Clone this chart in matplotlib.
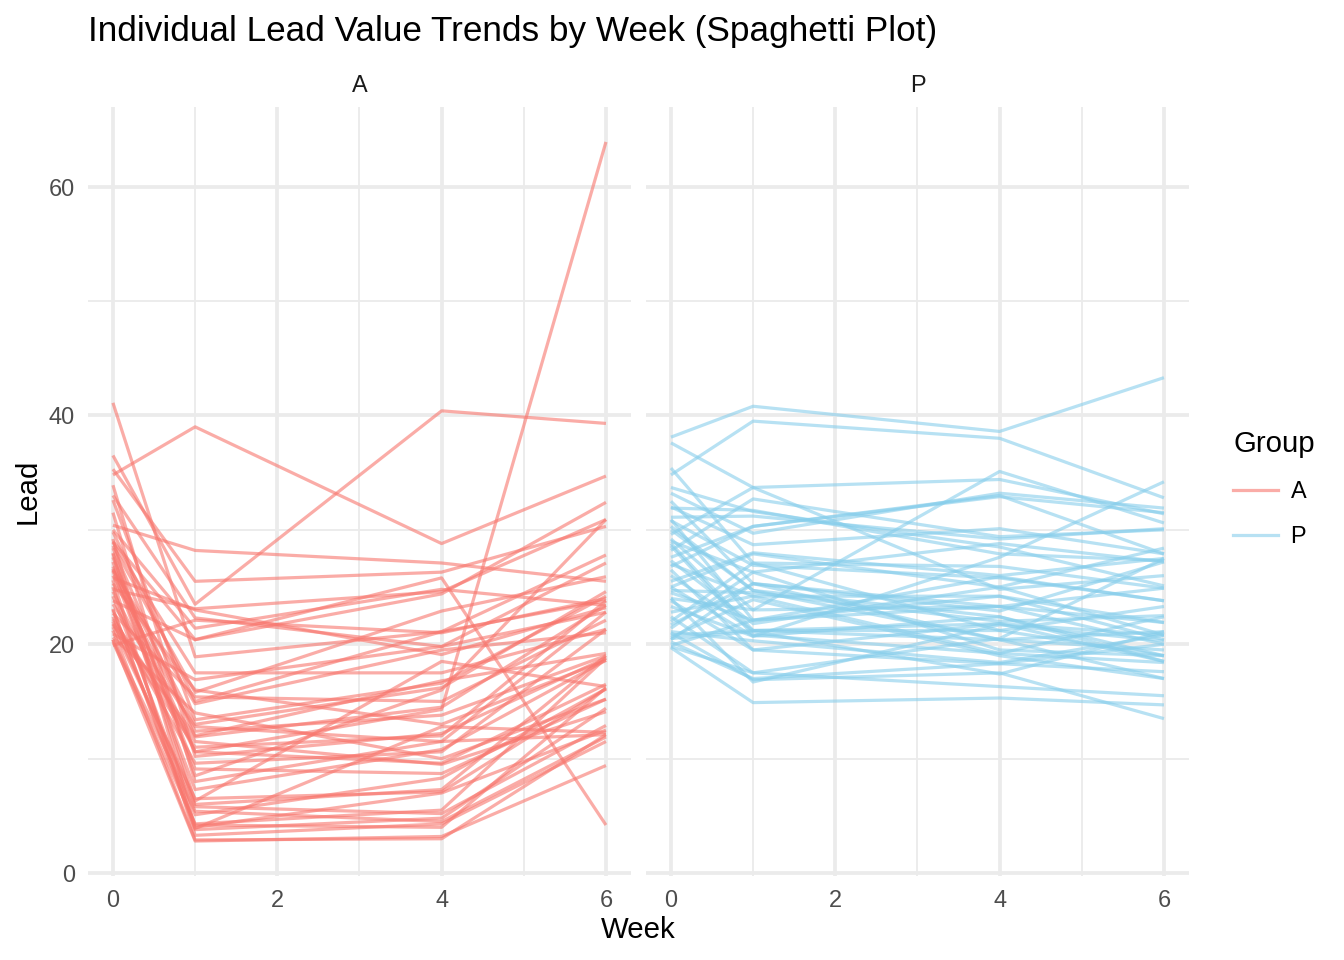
import matplotlib
matplotlib.use("Agg")
import matplotlib.pyplot as plt
from matplotlib.lines import Line2D
import numpy as np

plt.rcParams['font.family'] = ['Liberation Sans', 'DejaVu Sans']

weeks = [0, 1, 4, 6]
groups = ['A', 'P']
group_colors = {'A': '#F8766D', 'P': '#87CEEB'}
title_text = "Individual Lead Value Trends by Week (Spaghetti Plot)"

# ---- Group A (50 children): lead at week 0, 1, 4, 6 ----
lead_A_w0 = [26.5, 25.8, 20.4, 20.4, 24.8, 27.9, 35.3, 28.6, 21.5, 21.8,
             23.0, 22.2, 25.0, 34.8, 36.5, 41.1, 30.4, 26.6, 29.0, 33.0,
             33.9, 32.6, 31.5, 29.8, 29.2, 28.9, 28.4, 27.6, 27.2, 26.8,
             26.4, 26.0, 25.6, 25.3, 24.6, 24.2, 23.8, 23.5, 23.1, 22.7,
             22.4, 22.0, 21.7, 21.2, 20.9, 20.6, 20.2, 19.9, 30.0, 28.0]
lead_A_w1 = [14.8, 23.0, 2.8, 5.4, 23.1, 6.3, 25.5, 15.8, 6.5, 12.0,
             4.2, 11.5, 3.9, 39.0, 23.5, 18.9, 28.2, 10.6, 20.4, 22.3,
             10.2, 13.4, 8.0, 15.0, 4.0, 17.5, 11.9, 9.1, 5.8, 13.0,
             7.3, 12.4, 3.3, 16.0, 10.6, 5.1, 20.4, 12.8, 3.8, 15.4,
             9.6, 6.0, 11.0, 2.9, 16.9, 14.0, 4.3, 22.1, 21.4, 8.5]
lead_A_w4 = [19.5, 19.1, 3.2, 4.5, 24.6, 18.5, 26.3, 22.9, 7.1, 16.8,
             4.0, 9.5, 12.8, 28.8, 40.4, 21.1, 27.1, 14.3, 25.8, 19.8,
             12.2, 16.6, 11.5, 21.1, 7.0, 17.5, 14.5, 8.7, 5.2, 16.2,
             10.8, 13.8, 4.3, 13.0, 9.6, 8.3, 24.4, 11.5, 4.8, 15.0,
             10.6, 7.3, 12.0, 3.0, 19.8, 10.0, 5.5, 21.0, 24.8, 16.0]
lead_A_w6 = [21.0, 23.2, 9.4, 11.9, 30.9, 16.3, 30.3, 25.9, 16.1, 19.2,
             16.2, 14.1, 12.3, 34.7, 39.3, 23.8, 25.5, 63.9, 4.2, 22.8,
             18.8, 24.2, 22.8, 27.8, 12.5, 21.3, 23.4, 15.2, 12.9, 24.6,
             18.6, 19.0, 11.5, 18.6, 16.5, 16.1, 32.4, 12.1, 14.4, 22.1,
             21.3, 19.0, 23.8, 12.1, 27.1, 15.2, 18.8, 24.0, 23.4, 30.9]

# ---- Group P (50 children) ----
lead_P_w0 = [30.8, 24.7, 28.6, 33.7, 19.7, 31.1, 19.8, 21.4, 21.1, 20.6,
             24.0, 37.6, 31.9, 29.6, 20.5, 38.1, 34.8, 35.4, 33.2, 32.5,
             32.0, 30.9, 30.0, 28.8, 27.6, 26.5, 25.0, 24.0, 23.3, 22.4,
             21.0, 20.4, 19.9, 29.0, 27.0, 26.0, 25.5, 25.0, 24.5, 23.8,
             28.2, 22.8, 22.0, 20.8, 20.2, 26.8, 29.2, 27.3, 21.7, 30.3]
lead_P_w1 = [26.9, 24.5, 20.8, 31.6, 14.9, 31.2, 17.5, 26.3, 20.3, 23.9,
             16.7, 33.7, 31.7, 33.7, 21.1, 40.8, 39.5, 27.1, 29.7, 25.3,
             28.7, 22.1, 24.7, 21.2, 30.3, 19.5, 27.9, 23.0, 20.7, 17.5,
             16.9, 25.3, 22.1, 26.3, 24.2, 21.2, 28.0, 20.7, 22.1, 19.5,
             32.7, 24.2, 27.1, 21.2, 17.0, 30.3, 23.0, 21.8, 25.3, 24.7]
lead_P_w4 = [25.8, 22.0, 19.2, 28.5, 15.3, 29.2, 20.5, 19.5, 18.4, 19.0,
             21.7, 34.4, 27.9, 24.8, 17.4, 38.6, 38.0, 26.8, 33.2, 23.3,
             30.1, 24.2, 22.4, 21.8, 32.9, 18.3, 25.0, 35.1, 27.6, 16.3,
             17.5, 20.4, 23.3, 28.8, 19.2, 21.2, 26.0, 22.4, 25.9, 21.8,
             29.4, 24.2, 21.2, 20.4, 18.3, 33.0, 23.3, 25.0, 22.9, 20.4]
lead_P_w6 = [23.8, 22.5, 18.4, 25.1, 14.7, 30.1, 27.5, 19.0, 20.8, 17.0,
             20.3, 31.4, 27.3, 26.0, 21.1, 43.3, 32.8, 24.9, 31.9, 21.9,
             27.9, 20.4, 19.0, 18.5, 31.5, 17.6, 28.4, 30.6, 34.2, 15.5,
             13.5, 21.1, 20.0, 27.2, 22.4, 23.3, 27.5, 18.5, 23.8, 20.8,
             30.0, 21.9, 19.0, 17.0, 20.0, 27.9, 24.9, 20.8, 27.2, 19.5]

data = {
    'A': [lead_A_w0, lead_A_w1, lead_A_w4, lead_A_w6],
    'P': [lead_P_w0, lead_P_w1, lead_P_w4, lead_P_w6],
}

W, H = 1344, 960
fig = plt.figure(figsize=(W / 192, H / 192), dpi=192)

allvals = np.concatenate([np.array(v) for g in groups for v in data[g]])
ymin, ymax = allvals.min(), allvals.max()
yr = ymax - ymin
ylim = (ymin - 0.05 * yr, ymax + 0.05 * yr)
xr = max(weeks) - min(weeks)
xlim = (min(weeks) - 0.05 * xr, max(weeks) + 0.05 * xr)

panel_top, panel_bottom = 107, 876
panel_lefts = [88.3, 646.3]
panel_w = 542.3

grid_w = 1.42
line_w = 1.2
axes = []
for k, g in enumerate(groups):
    ax = fig.add_axes([panel_lefts[k] / W, 1 - panel_bottom / H,
                       panel_w / W, (panel_bottom - panel_top) / H])
    axes.append(ax)
    ax.set_xlim(xlim)
    ax.set_ylim(ylim)
    for s in ax.spines.values():
        s.set_visible(False)
    ax.set_xticks([0, 2, 4, 6])
    ax.set_xticks([1, 3, 5], minor=True)
    ax.set_yticks([0, 20, 40, 60])
    ax.set_yticks([10, 30, 50], minor=True)
    ax.grid(which='major', color='#EBEBEB', linewidth=grid_w)
    ax.grid(which='minor', color='#EBEBEB', linewidth=grid_w / 2)
    ax.set_axisbelow(True)
    ax.tick_params(which='both', length=0, pad=4.95, labelsize=8.8,
                   labelcolor='#4D4D4D')
    if k > 0:
        ax.tick_params(axis='y', labelleft=False)
    cols = data[g]
    n = len(cols[0])
    for i in range(n):
        ax.plot(weeks, [cols[0][i], cols[1][i], cols[2][i], cols[3][i]],
                color=group_colors[g], alpha=0.6, linewidth=line_w,
                solid_joinstyle='round', solid_capstyle='butt')
    ax.text(0.5, 1 + 22 / (panel_bottom - panel_top), g, transform=ax.transAxes,
            ha='center', va='center', fontsize=8.8, color='#1A1A1A')

fig.text(88 / W, 1 - 31 / H, title_text, ha='left', va='center', fontsize=13.2)
fig.text((88.3 + 1188.6) / 2 / W, 1 - 930 / H, "Week", ha='center', va='center', fontsize=11)
fig.text(28 / W, 1 - 491 / H, "Lead", ha='center', va='center', fontsize=11, rotation=90)

handles = [Line2D([0], [0], color=group_colors[g], alpha=0.6, linewidth=line_w) for g in groups]
leg = fig.legend(handles, groups, title='Group', loc='center left',
                 bbox_to_anchor=(1212 / W, 1 - 489 / H), frameon=False,
                 fontsize=8.8, title_fontsize=11, handlelength=1.9,
                 handletextpad=0.55, labelspacing=0.95, alignment='left')

fig.savefig('out.png', dpi=192, facecolor='white')
